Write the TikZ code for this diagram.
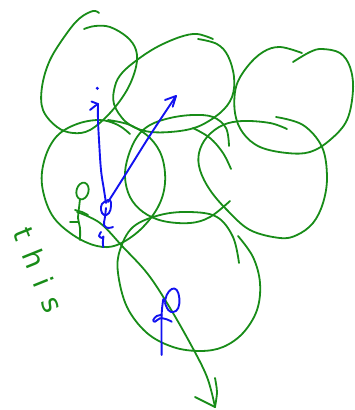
\documentclass[tikz,border=0pt]{standalone}
\usepackage{fontspec}
\newfontfamily\handfont[LetterSpace=45]{DejaVu Sans}
\definecolor{penGreen}{RGB}{24,140,24}
\definecolor{penBlue}{RGB}{18,18,240}
\tikzset{
  gstroke/.style={draw=penGreen, line width=1.8pt, line cap=round, line join=round},
  bstroke/.style={draw=penBlue, line width=1.9pt, line cap=round, line join=round},
}
\begin{document}
\begin{tikzpicture}[x=1pt,y=-1pt]
\useasboundingbox (0,0) rectangle (354,410);
% circle A (top-left)
\draw[gstroke] plot[smooth,tension=0.6] coordinates {(99,13) (93,11) (80,18) (67,33) (50,60) (42,87) (43,110) (57,127) (73,133) (90,130) (110,113) (127,90) (136,67) (136,50) (127,37) (110,27) (95,26) (84,29)};
% circle B (top-middle)
\draw[gstroke] plot[smooth,tension=0.6] coordinates {(198,39) (217,44) (228,56) (234,77) (232,97) (220,113) (197,127) (170,132) (145,131) (126,122) (114,104) (115,86) (122,73) (137,60) (157,47) (180,37) (197,34) (213,39)};
% circle C (top-right)
\draw[gstroke] plot[smooth,tension=0.6] coordinates {(293,62) (310,52) (322,49) (340,53) (350,67) (353,90) (347,120) (330,140) (310,152) (287,153) (260,147) (243,133) (235,113) (236,87) (247,67) (263,52) (280,47) (302,53)};
% circle D (middle-left)
\draw[gstroke] plot[smooth,tension=0.6] coordinates {(130,134) (118,125) (100,120) (77,124) (57,136) (45,158) (42,185) (52,215) (73,235) (97,246) (117,245) (140,230) (158,207) (165,183) (162,157) (150,138) (130,125) (108,120)};
% circle E (middle)
\draw[gstroke] plot[smooth,tension=0.6] coordinates {(229,146) (226,128) (213,117) (193,115) (170,118) (150,125) (137,137) (128,157) (125,177) (130,197) (143,212) (163,221) (190,223) (210,217) (230,201)};
\draw[gstroke] plot[smooth,tension=0.6] coordinates {(193,128) (210,138) (223,153) (231,169)};
% circle F (middle-right)
\draw[gstroke] plot[smooth,tension=0.6] coordinates {(287,129) (270,123) (243,121) (223,125) (207,137) (199,153) (200,170) (210,190) (227,210) (250,230) (280,238) (297,235) (313,223) (323,203) (327,177) (322,147) (303,125) (276,117)};
% circle G (bottom)
\draw[gstroke] plot[smooth,tension=0.6] coordinates {(239,263) (233,237) (217,217) (190,212) (160,215) (133,227) (120,250) (118,273) (127,307) (147,333) (173,347) (200,351) (223,347) (243,333) (257,310) (260,283) (253,257) (238,236)};
% green curved arrow
\coordinate (gstart) at (77,212);
\coordinate (gtip) at (215,407);
\draw[gstroke] plot[smooth,tension=0.6] coordinates {(77,212) (100,223) (123,247) (147,273) (167,303) (190,343) (207,377) (215,407)};
\draw[gstroke] (195,397) -- (gtip);
\draw[gstroke] plot[smooth] coordinates {(215,378) (217,392) (215,407)};
% green stick figure
\draw[gstroke, rotate around={-15:(82.5,191)}] (82.5,191) ellipse [x radius=6, y radius=8.5];
\draw[gstroke] plot[smooth,tension=0.6] coordinates {(80,199) (79,208) (78,218) (80,228) (80,240)};
\draw[gstroke] (75,210) -- (82,212) -- (88,215);
\draw[gstroke] (70,222) -- (78,222);
% text
\node[text=penGreen, font=\handfont\fontsize{28}{28}\selectfont, rotate=-68] (this) at (39,270) {this};
% blue vertical arrow with dot
\coordinate (itip) at (98,104);
\fill[penBlue] (97.3,88.3) circle (1.7);
\draw[bstroke] plot[smooth,tension=0.6] coordinates {(106,203) (104,190) (101,170) (99,140) (98,120) (itip)};
\draw[bstroke] (91.5,101.5) -- (itip);
\draw[bstroke] (90,110) -- (95,106) -- (itip);
% blue diagonal arrow
\coordinate (dtip) at (176,96);
\draw[bstroke] plot[smooth,tension=0.6] coordinates {(108,202) (122,180) (147,140) (162,117) (dtip)};
\draw[bstroke] (165,100) -- (dtip) -- (172.7,106.7);
% blue figure 1
\draw[bstroke] plot[smooth,tension=0.7] coordinates {(106,201) (110,200) (111,206) (109,213) (104,215) (101,210) (102,204) (106,201)};
\draw[bstroke] plot[smooth,tension=0.6] coordinates {(106,208) (105,217) (104,225) (108,228) (113,227)};
\draw[bstroke] plot[smooth,tension=0.6] coordinates {(101,232) (99,236) (102,238) (103.5,236.5) (102.8,242) (103.3,247)};
% blue figure 2
\draw[bstroke] plot[smooth,tension=0.7] coordinates {(165,302) (166.7,295) (171.7,289) (176.7,290) (179.3,298) (178.3,308) (173.3,312) (168.3,310) (165,303)};
\draw[bstroke] plot[smooth,tension=0.6] coordinates {(163.3,299) (161.7,313) (161.5,335) (161.7,355)};
\draw[bstroke] plot[smooth,tension=0.6] coordinates {(171.7,321.7) (166.7,319.3) (160,318.3) (155,321.7) (153.3,320) (156.7,316) (161.7,315)};
\end{tikzpicture}
\end{document}
